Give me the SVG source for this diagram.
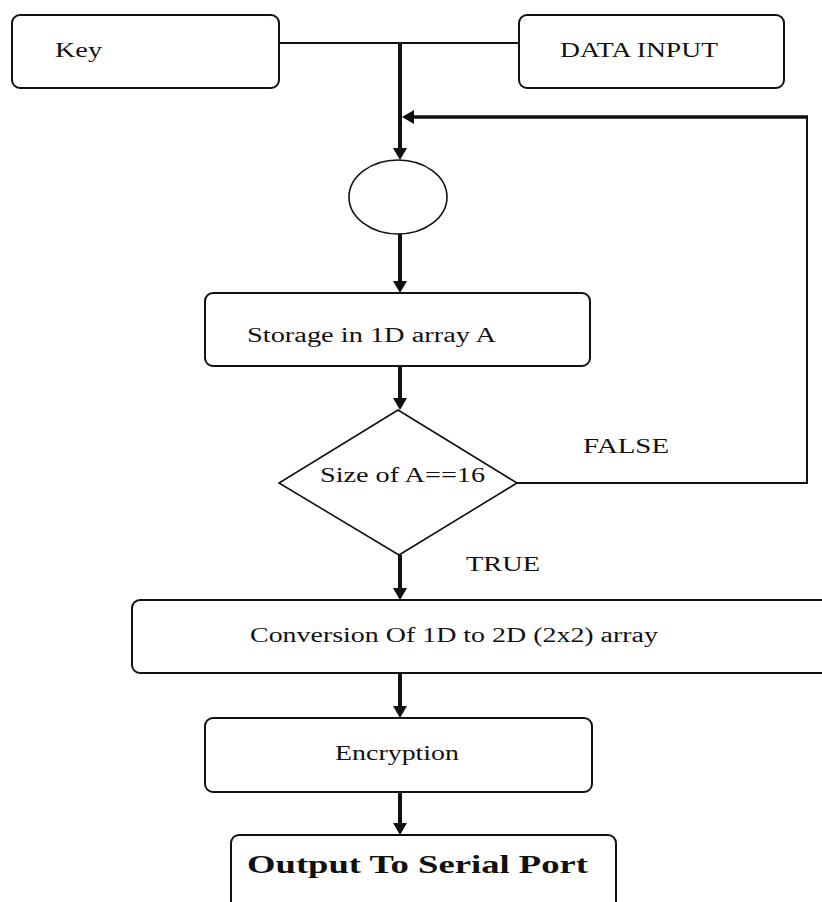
<svg xmlns="http://www.w3.org/2000/svg" width="822" height="902" viewBox="0 0 822 902">
  <style>
    .box { fill: #ffffff; stroke: #111111; stroke-width: 2; }
    .shape { fill: #ffffff; stroke: #111111; stroke-width: 1.6; }
    .label { font-family: "Liberation Serif", "Times New Roman", serif; font-size: 20px; fill: #111111; }
    .bold { font-family: "Liberation Serif", "Times New Roman", serif; font-size: 26px; font-weight: bold; fill: #111111; }
    .thin { fill: none; stroke: #111111; stroke-width: 2; }
    .flow { fill: none; stroke: #111111; stroke-width: 4; }
    .loop { fill: none; stroke: #111111; stroke-width: 3.5; }
  </style>
  <defs>
    <marker id="head" viewBox="0 0 12 14" refX="4" refY="7" markerWidth="12" markerHeight="14" markerUnits="userSpaceOnUse" orient="auto">
      <path d="M0,0 L12,7 L0,14 z" fill="#111111"/>
    </marker>
  </defs>

  <rect width="822" height="902" fill="#ffffff"/>

  <!-- connectors -->
  <g id="connectors">
    <path class="thin" d="M279,43 H519"/>
    <path class="flow" d="M400,43 V152" marker-end="url(#head)"/>
    <path class="thin" d="M517,483 H807 V117"/>
    <path class="loop" d="M808,117 H410" marker-end="url(#head)"/>
    <path class="flow" d="M400,234 V285" marker-end="url(#head)"/>
    <path class="flow" d="M400,366 V402" marker-end="url(#head)"/>
    <path class="flow" d="M400,555 V592" marker-end="url(#head)"/>
    <path class="flow" d="M400,673 V710" marker-end="url(#head)"/>
    <path class="flow" d="M400,792 V827" marker-end="url(#head)"/>
    <text class="label" x="583" y="453" textLength="86" lengthAdjust="spacingAndGlyphs">FALSE</text>
    <text class="label" x="466" y="571" textLength="74" lengthAdjust="spacingAndGlyphs">TRUE</text>
  </g>

  <!-- nodes -->
  <g id="key">
    <rect class="box" x="12" y="15" width="267" height="73" rx="8"/>
    <text class="label" x="55" y="57" textLength="47" lengthAdjust="spacingAndGlyphs">Key</text>
  </g>

  <g id="data-input">
    <rect class="box" x="519" y="15" width="265" height="73" rx="8"/>
    <text class="label" x="560" y="57" textLength="158" lengthAdjust="spacingAndGlyphs">DATA INPUT</text>
  </g>

  <g id="junction">
    <ellipse class="shape" cx="398" cy="197" rx="49" ry="37"/>
  </g>

  <g id="storage">
    <rect class="box" x="205" y="293" width="385" height="73" rx="8"/>
    <text class="label" x="247" y="342" textLength="249" lengthAdjust="spacingAndGlyphs">Storage in 1D array A</text>
  </g>

  <g id="size-check">
    <polygon class="shape" points="398,410 517,483 399,555 279,483"/>
    <text class="label" x="320" y="482" textLength="165" lengthAdjust="spacingAndGlyphs">Size of A==16</text>
  </g>

  <g id="conversion">
    <rect class="box" x="132" y="600" width="710" height="73" rx="8"/>
    <text class="label" x="250" y="642" textLength="408" lengthAdjust="spacingAndGlyphs">Conversion Of 1D to 2D (2x2) array</text>
  </g>

  <g id="encryption">
    <rect class="box" x="205" y="718" width="387" height="74" rx="8"/>
    <text class="label" x="335" y="760" textLength="124" lengthAdjust="spacingAndGlyphs">Encryption</text>
  </g>

  <g id="output">
    <rect class="box" x="231" y="835" width="385" height="90" rx="8"/>
    <text class="bold" x="247" y="873" textLength="341" lengthAdjust="spacingAndGlyphs">Output To Serial Port</text>
  </g>
</svg>
